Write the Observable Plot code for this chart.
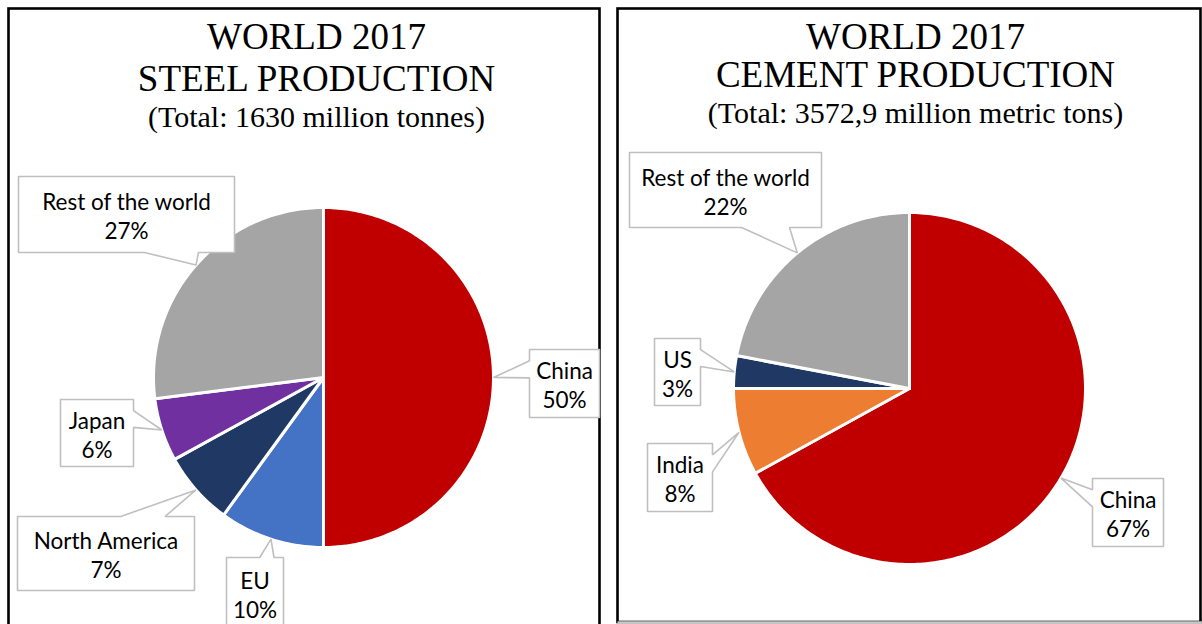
<!DOCTYPE html>
<html>
<head>
<meta charset="utf-8">
<script src="https://cdn.jsdelivr.net/npm/d3@7"></script>
<script src="https://cdn.jsdelivr.net/npm/@observablehq/plot@0.6"></script>
<style>
  html, body { margin: 0; padding: 0; background: #fff; }
  body { width: 1202px; height: 624px; overflow: hidden; }
  #chart svg { display: block; }
</style>
</head>
<body>
<div id="chart"></div>
<script>
// ---------- DATA ----------
const steelCategories = ["China", "EU", "North America", "Japan", "Rest of the world"];
const steelShares = [50, 10, 7, 6, 27];
const steelColors = ["#C00000", "#4472C4", "#203864", "#7030A0", "#A5A5A5"];
const steelTitle = ["WORLD 2017", "STEEL PRODUCTION", "(Total: 1630 million tonnes)"];

const cementCategories = ["China", "India", "US", "Rest of the world"];
const cementShares = [67, 8, 3, 22];
const cementColors = ["#C00000", "#ED7D31", "#203864", "#A5A5A5"];
const cementTitle = ["WORLD 2017", "CEMENT PRODUCTION", "(Total: 3572,9 million metric tons)"];

// ---------- LAYOUT (pixels) ----------
const W = 1202, H = 624;
const steelLayout = {
  cx: 323, cy: 377, r: 170,
  titleX: 316, titleY: [48, 90, 126],
  boxes: [[529, 349, 70, 68], [226, 557, 57, 72], [17, 516, 177, 74], [60, 399, 73, 67], [18, 176, 216, 76]],
  frame: {x1: 8.5, x2: 599.5, y1: 8.5, y2: 700}
};
const cementLayout = {
  cx: 909, cy: 388, r: 176,
  titleX: 915, titleY: [48, 86, 122],
  boxes: [[1092, 478, 71, 68], [647, 443, 65, 68], [654, 338, 46, 67], [629, 152, 192, 75]],
  frame: {x1: 617.5, x2: 1200.5, y1: 8.5, y2: 622}
};

// ---------- GEOMETRY ----------
function slicesFor(cats, shares, colors, L, key) {
  const arcs = d3.pie().sort(null).value(d => d)(shares);
  const poly = [], tips = [];
  arcs.forEach((a, i) => {
    const id = key + i;
    poly.push({id, color: colors[i], x: L.cx, y: L.cy});
    const n = Math.max(2, Math.ceil((a.endAngle - a.startAngle) / (Math.PI / 180)));
    for (let k = 0; k <= n; k++) {
      const t = a.startAngle + (a.endAngle - a.startAngle) * k / n;
      poly.push({id, color: colors[i], x: L.cx + L.r * Math.sin(t), y: L.cy - L.r * Math.cos(t)});
    }
    poly.push({id, color: colors[i], x: L.cx, y: L.cy});
    const m = (a.startAngle + a.endAngle) / 2;
    tips.push([L.cx + L.r * Math.sin(m), L.cy - L.r * Math.cos(m)]);
  });
  return {poly, tips};
}

function calloutPoints(b, tip) {
  const [x0, y0, w, h] = b, x1 = x0 + w, y1 = y0 + h;
  const dx = (tip[0] - (x0 + w / 2)) / w, dy = (tip[1] - (y0 + h / 2)) / h;
  if (Math.abs(dx) > Math.abs(dy)) {
    const f = (tip[1] - y0) / h > 0.5 ? [7 / 12, 10 / 12] : [2 / 12, 5 / 12];
    const ya = y0 + f[0] * h, yb = y0 + f[1] * h;
    if (dx > 0) return [[x0, y0], [x1, y0], [x1, ya], tip, [x1, yb], [x1, y1], [x0, y1], [x0, y0]];
    return [[x0, y0], [x1, y0], [x1, y1], [x0, y1], [x0, yb], tip, [x0, ya], [x0, y0]];
  } else {
    const f = (tip[0] - x0) / w > 0.5 ? [7 / 12, 10 / 12] : [2 / 12, 5 / 12];
    const xa = x0 + f[0] * w, xb = x0 + f[1] * w;
    if (dy > 0) return [[x0, y0], [x1, y0], [x1, y1], [xb, y1], tip, [xa, y1], [x0, y1], [x0, y0]];
    return [[x0, y0], [xa, y0], tip, [xb, y0], [x1, y0], [x1, y1], [x0, y1], [x0, y0]];
  }
}

function build(cats, shares, colors, L, key) {
  const {poly, tips} = slicesFor(cats, shares, colors, L, key);
  const callouts = [], labels = [];
  cats.forEach((c, i) => {
    const b = L.boxes[i];
    calloutPoints(b, tips[i]).forEach(p => callouts.push({id: key + "c" + i, x: p[0], y: p[1]}));
    labels.push({x: b[0] + b[2] / 2, y: b[1] + b[3] / 2 + 1, text: c + "\n" + shares[i] + "%"});
  });
  return {poly, callouts, labels};
}

const S = build(steelCategories, steelShares, steelColors, steelLayout, "s");
const C = build(cementCategories, cementShares, cementColors, cementLayout, "c");
const poly = S.poly.concat(C.poly);
const callouts = S.callouts.concat(C.callouts);
const labels = S.labels.concat(C.labels);

const titles = [];
[[steelTitle, steelLayout], [cementTitle, cementLayout]].forEach(([t, L]) => {
  t.forEach((line, i) => titles.push({x: L.titleX, y: L.titleY[i], text: line, size: i < 2 ? 37 : 30}));
});

const frames = [steelLayout.frame, cementLayout.frame];

const chart = Plot.plot({
  width: W, height: H,
  margin: 0,
  x: {domain: [0, W], range: [0, W], axis: null},
  y: {domain: [0, H], range: [0, H], axis: null},
  color: {type: "identity"},
  style: {background: "#fff", overflow: "visible"},
  marks: [
    // panel frames
    Plot.rect(frames, {x1: "x1", x2: "x2", y1: "y1", y2: "y2", fill: "none", stroke: "#000", strokeWidth: 2.6}),
    Plot.ruleY([cementLayout.frame.y2], {x1: cementLayout.frame.x1, x2: cementLayout.frame.x2 + 1.3, stroke: "#C8C8C8", strokeWidth: 2.6}),
    // pie slices
    Plot.line(poly, {x: "x", y: "y", z: "id", fill: "color", stroke: "#fff", strokeWidth: 3, strokeLinejoin: "round", curve: "linear"}),
    // callouts
    Plot.line(callouts, {x: "x", y: "y", z: "id", fill: "#fff", stroke: "#BFBFBF", strokeWidth: 1.6, strokeLinejoin: "miter", curve: "linear"}),
    Plot.text(labels, {x: "x", y: "y", text: "text", fontFamily: "Lato", fontSize: 22.5, lineHeight: 1.3, fill: "#000", lineAnchor: "middle", textAnchor: "middle"}),
    // titles
    Plot.text(titles, {x: "x", y: "y", text: "text", fontSize: d => d.size, fontFamily: "Liberation Serif", fill: "#000", lineAnchor: "bottom", textAnchor: "middle"})
  ]
});
document.getElementById("chart").appendChild(chart);
</script>
</body>
</html>
